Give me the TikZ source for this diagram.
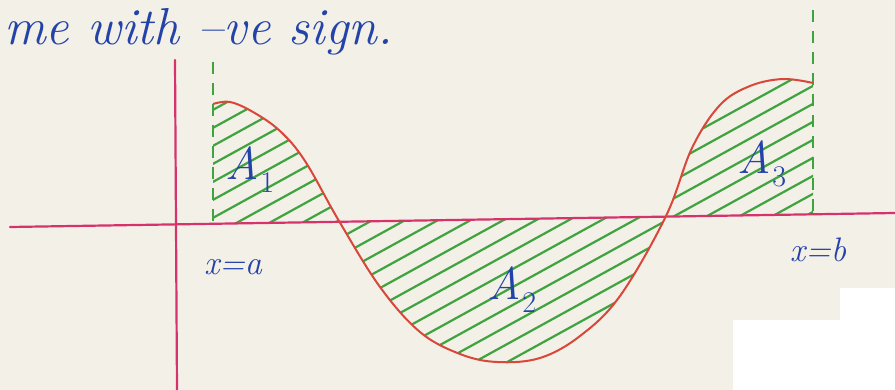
\documentclass[tikz,border=0pt]{standalone}
\usetikzlibrary{calc}
\definecolor{paper}{HTML}{F3F0E8}
\definecolor{axiscol}{HTML}{D6336C}
\definecolor{curvecol}{HTML}{D8473A}
\definecolor{hatchcol}{HTML}{3FA33F}
\definecolor{inkcol}{HTML}{2443A8}
\newcommand{\arealbl}[1]{\itshape A\kern0.02em\raisebox{-0.28em}{\upshape\fontsize{30}{30}\selectfont #1}}
\tikzset{
  axisline/.style={draw=axiscol, line width=2.2pt, line cap=round},
  curveline/.style={draw=curvecol, line width=2pt},
  hatchline/.style={draw=hatchcol, line width=2.2pt},
  guide/.style={draw=hatchcol, line width=2pt, dash pattern=on 12pt off 9pt},
  ink/.style={text=inkcol, inner sep=0pt}
}
\begin{document}
\begin{tikzpicture}[x=1pt,y=-1pt]
\useasboundingbox (0,0) rectangle (895,390);
\fill[paper] (0,0) rectangle (895,390);
\fill[white] (840,288) rectangle (895,390);
\fill[white] (733,320) rectangle (895,390);

% named points
\coordinate (axL) at (10,227);
\coordinate (axR) at (895,213);
\coordinate (vaT) at (175,60);
\coordinate (vaB) at (177,390);
\coordinate (aTop) at (213,62);
\coordinate (aBot) at (213,223.5);
\coordinate (bTop) at (813,10);
\coordinate (bBot) at (813,214);

\def\curvepts{(213,104) (230,102) (253,112) (280,131) (305,161) (339,221) (380,287) (420,332) (460,354) (497,362) (540,358) (580,336) (620,296) (666,216) (692,148) (720,105) (750,86) (783,79) (813,83)}

% hatching
\begin{scope}
  \clip plot[smooth, tension=0.6] coordinates {\curvepts} -- (bBot) -- (aBot) -- cycle;
  \foreach \k in {0,...,42}{
    \draw[hatchline] (100,{100+\k*18}) -- ++(800,-440);
  }
\end{scope}

% guide lines
\draw[guide] (aTop) -- (aBot);
\draw[guide] (bTop) -- (bBot);

% axes
\draw[axisline] (axL) -- (axR);
\draw[axisline] (vaT) -- (vaB);

% curve
\draw[curveline] plot[smooth, tension=0.6] coordinates {\curvepts};

% labels
\node[ink, font=\fontsize{46}{46}\selectfont] (A1) at (250,170) {\arealbl{1}};
\node[ink, font=\fontsize{46}{46}\selectfont] (A2) at (512,290) {\arealbl{2}};
\node[ink, font=\fontsize{46}{46}\selectfont] (A3) at (762,164) {\arealbl{3}};
\node[ink, font=\fontsize{34}{34}\selectfont\itshape] (xa) at (233,267) {x=a};
\node[ink, font=\fontsize{34}{34}\selectfont\itshape] (xb) at (818,250) {x=b};
\node[ink, anchor=base west, font=\fontsize{52}{52}\selectfont\itshape] (top) at (4,45) {me with --ve sign.};
\end{tikzpicture}
\end{document}
